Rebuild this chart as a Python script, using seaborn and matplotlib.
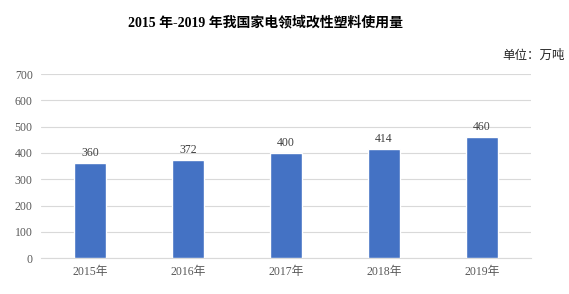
import matplotlib
matplotlib.use("Agg")
import matplotlib.pyplot as plt
import seaborn as sns
import pandas as pd

years = ["2015年", "2016年", "2017年", "2018年", "2019年"]
values = [360, 372, 400, 414, 460]
yticks = [0, 100, 200, 300, 400, 500, 600, 700]

sns.set_theme(style="white")
plt.rcParams['font.family'] = ['Liberation Serif', 'Noto Sans CJK SC', 'DejaVu Sans']

df = pd.DataFrame({"year": years, "value": values})

fig = plt.figure(figsize=(5.69, 2.94), dpi=100)
ax = fig.add_axes([0.072, 0.122, 0.861, 0.626])
sns.barplot(data=df, x="year", y="value", color="#4472C4", width=0.33,
            saturation=1, ax=ax, zorder=3)

ax.set_ylim(0, 700)
ax.set_yticks(yticks)
ax.set_xlim(-0.5, len(years) - 0.5)
ax.yaxis.grid(True, color="#D9D9D9", linewidth=0.8, zorder=0)
ax.set_axisbelow(True)
for s in ["top", "right", "left"]:
    ax.spines[s].set_visible(False)
ax.spines["bottom"].set_color("#D9D9D9")
ax.spines["bottom"].set_linewidth(0.8)
ax.tick_params(axis="both", length=0, labelsize=8.5, colors="#595959", pad=6)
ax.set_xlabel("")
ax.set_ylabel("")

for c in ax.containers:
    ax.bar_label(c, labels=[str(v) for v in values], fontsize=8.5, color="#404040", padding=3)

fig.text(0.466, 0.925, "2015 年-2019 年我国家电领域改性塑料使用量", ha="center", va="center",
         fontsize=10, fontweight="bold", color="black")
fig.text(0.993, 0.81, "单位：万吨", ha="right", va="center", fontsize=9, color="#262626",
         family=['Noto Sans CJK SC', 'DejaVu Sans'])

fig.savefig("out.png", dpi=100)
